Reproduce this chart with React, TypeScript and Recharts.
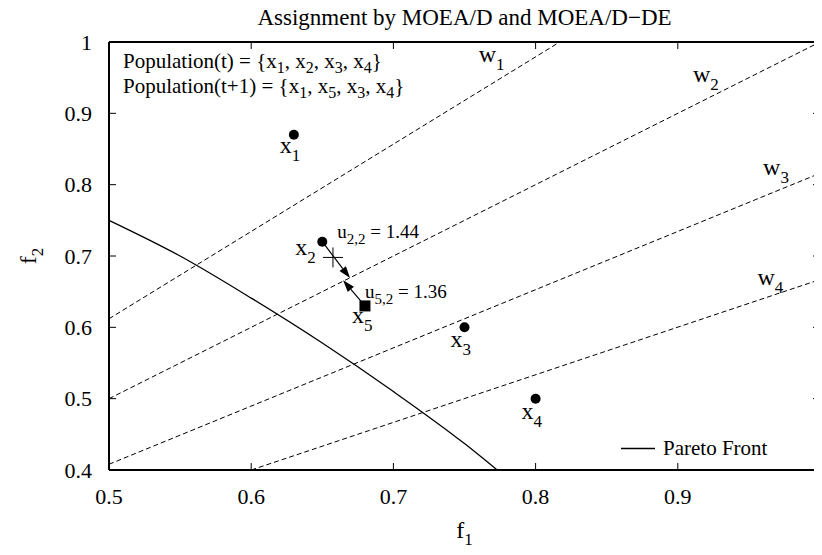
import React from "react";
import {
  ComposedChart,
  XAxis,
  YAxis,
  Line,
  Scatter,
  ReferenceLine,
  ReferenceDot,
  Legend,
} from "recharts";

const FONT =
  "'Liberation Serif', Tinos, 'Times New Roman', 'Nimbus Roman', 'DejaVu Serif', serif";

const xTicks = [0.5, 0.6, 0.7, 0.8, 0.9, 1];
const yTicks = [0.4, 0.5, 0.6, 0.7, 0.8, 0.9, 1];
const xMin = 0.5;
const xMax = 1;
const yMin = 0.4;
const yMax = 1;

// pareto front
const paretoFront = [
  { x: 0.5, y: 0.75 },
  { x: 0.55, y: 0.7 },
  { x: 0.6, y: 0.641 },
  { x: 0.65, y: 0.578 },
  { x: 0.7, y: 0.51 },
  { x: 0.75, y: 0.437 },
  { x: 0.773, y: 0.4 },
];

// weight vectors (end points inside the frame)
const w1 = [
  { x: 0.5, y: 0.612 },
  { x: 0.817, y: 1 },
];
const w2 = [
  { x: 0.5, y: 0.5 },
  { x: 1, y: 1 },
];
const w3 = [
  { x: 0.5, y: 0.408 },
  { x: 1, y: 0.816 },
];
const w4 = [
  { x: 0.6, y: 0.4 },
  { x: 1, y: 0.667 },
];

const population = [
  { id: "1", x: 0.63, y: 0.87 },
  { id: "2", x: 0.65, y: 0.72 },
  { id: "3", x: 0.75, y: 0.6 },
  { id: "4", x: 0.8, y: 0.5 },
];
const offspring = [{ id: "5", x: 0.68, y: 0.63 }];
const crossPoint = [{ x: 0.6575, y: 0.698 }];

const arrows = [
  { from: { x: 0.65, y: 0.72 }, to: { x: 0.6695, y: 0.669 } },
  { from: { x: 0.68, y: 0.63 }, to: { x: 0.6646, y: 0.666 } },
];

const utilities = [
  { id: "2,2", value: "1.44", x: 0.65, y: 0.72 },
  { id: "5,2", value: "1.36", x: 0.68, y: 0.63 },
];

const weightLabels = [
  { id: "1", x: 0.76, y: 0.972 },
  { id: "2", x: 0.9107, y: 0.944 },
  { id: "3", x: 0.96, y: 0.8135 },
  { id: "4", x: 0.956, y: 0.659 },
];

// frame (top and right edges) and tick positions built from the ticks
const frameTopRight = [
  { x: xMin, y: yMax },
  { x: xMax, y: yMax },
  { x: xMax, y: yMin },
];
const topTicks = xTicks.slice(1, -1).map((x) => ({ x, y: yMax }));
const bottomTicks = xTicks.slice(1, -1).map((x) => ({ x, y: yMin }));
const leftTicks = yTicks.slice(1, -1).map((y) => ({ x: xMin, y }));
const rightTicks = yTicks.slice(1, -1).map((y) => ({ x: xMax, y }));

// pixel offsets of the x_i labels from their points
const pointLabelOffset: Record<string, [number, number]> = {
  "1": [-14, 18],
  "2": [-27, 13],
  "3": [-14, 20],
  "4": [-14, 20],
  "5": [-13, 17],
};
const utilityOffset: Record<string, [number, number]> = {
  "2,2": [15, -4],
  "5,2": [0, -8],
};

const TICK = 7;

function SubText({ x, y, main, sub, rest, size, subSize, shift, anchor, transform }: any) {
  return (
    <text
      x={x}
      y={y}
      fontSize={size}
      fontFamily={FONT}
      style={{ fontFamily: FONT }}
      fill="#000"
      textAnchor={anchor || "start"}
      transform={transform}
    >
      {main}
      <tspan fontSize={subSize} dy={shift}>
        {sub}
      </tspan>
      {rest ? (
        <tspan fontSize={size} dy={-shift}>
          {rest}
        </tspan>
      ) : null}
    </text>
  );
}

function PointShape(props: any) {
  const { cx, cy, payload } = props;
  const off = pointLabelOffset[payload.id] || [0, 0];
  return (
    <g>
      <circle cx={cx} cy={cy} r={5} fill="#000" />
      <SubText x={cx + off[0]} y={cy + off[1]} main="x" sub={payload.id} size={24} subSize={17} shift={8} />
    </g>
  );
}

function SquareShape(props: any) {
  const { cx, cy, payload } = props;
  const off = pointLabelOffset[payload.id] || [0, 0];
  return (
    <g>
      <rect x={cx - 5.5} y={cy - 5.5} width={11} height={11} fill="#000" />
      <SubText x={cx + off[0]} y={cy + off[1]} main="x" sub={payload.id} size={24} subSize={17} shift={8} />
    </g>
  );
}

function CrossShape(props: any) {
  const { cx, cy } = props;
  return (
    <g stroke="#000" strokeWidth={1}>
      <line x1={cx - 10} y1={cy} x2={cx + 10} y2={cy} />
      <line x1={cx} y1={cy - 10} x2={cx} y2={cy + 10} />
    </g>
  );
}

// inner tick marks: dx/dy give the direction into the plot
const tickShape = (dx: number, dy: number) => (props: any) => {
  const { cx, cy } = props;
  return <line x1={cx} y1={cy} x2={cx + dx * TICK} y2={cy + dy * TICK} stroke="#000" strokeWidth={1} />;
};

function ArrowShape(props: any) {
  const { x1, y1, x2, y2 } = props;
  const ang = Math.atan2(y2 - y1, x2 - x1);
  const len = 12;
  const half = 4;
  const bx = x2 - len * Math.cos(ang);
  const by = y2 - len * Math.sin(ang);
  const nx = -Math.sin(ang) * half;
  const ny = Math.cos(ang) * half;
  return (
    <g>
      <line x1={x1} y1={y1} x2={bx} y2={by} stroke="#000" strokeWidth={1.2} />
      <polygon points={`${x2},${y2} ${bx + nx},${by + ny} ${bx - nx},${by - ny}`} fill="#000" />
    </g>
  );
}

const renderLegend = () => (
  <div
    style={{
      display: "flex",
      alignItems: "center",
      fontFamily: FONT,
      fontSize: 21,
      lineHeight: "24px",
      color: "#000",
    }}
  >
    <svg width={34} height={3} style={{ marginRight: 8 }}>
      <line x1={0} y1={1.5} x2={34} y2={1.5} stroke="#000" strokeWidth={1.3} />
    </svg>
    <span>Pareto Front</span>
  </div>
);

const subStyle: React.CSSProperties = { fontSize: 16, position: "relative", top: 5 };

function PopText({ t, ids }: { t: string; ids: string[] }) {
  return (
    <span>
      Population({t}) = {"{"}
      {ids.map((id, i) => (
        <React.Fragment key={i}>
          x<span style={subStyle}>{id}</span>
          {i < ids.length - 1 ? ", " : ""}
        </React.Fragment>
      ))}
      {"}"}
    </span>
  );
}

export default function App() {
  const axisLine = { stroke: "#000", strokeWidth: 2 };
  const tickStyle = { fill: "#000", fontSize: 22, fontFamily: FONT };
  return (
    <div
      style={{
        position: "relative",
        width: 822,
        height: 555,
        margin: -8,
        background: "#fff",
        fontFamily: FONT,
      }}
    >
      <ComposedChart
        width={822}
        height={555}
        margin={{ top: 42, right: 2, bottom: 0, left: 0 }}
        style={{ fontFamily: FONT }}
      >
        <XAxis
          type="number"
          dataKey="x"
          domain={[xMin, xMax]}
          ticks={xTicks}
          height={85}
          axisLine={axisLine}
          tickLine={false}
          tickSize={-TICK}
          tickMargin={25}
          tick={tickStyle}
          tickFormatter={(v) => String(v)}
          interval={0}
          label={{
            content: (p: any) => {
              const vb = p.viewBox;
              return (
                <SubText x={vb.x + vb.width / 2} y={538} main="f" sub="1" size={24} subSize={17} shift={7} anchor="middle" />
              );
            },
          }}
        />
        <YAxis
          type="number"
          dataKey="y"
          domain={[yMin, yMax]}
          ticks={yTicks}
          width={109}
          axisLine={axisLine}
          tickLine={false}
          tickSize={-TICK}
          tickMargin={24}
          tick={tickStyle}
          tickFormatter={(v) => String(v)}
          interval={0}
          label={{
            content: (p: any) => {
              const vb = p.viewBox;
              const cy = vb.y + vb.height / 2;
              return (
                <SubText
                  x={36}
                  y={cy}
                  main="f"
                  sub="2"
                  size={24}
                  subSize={17}
                  shift={7}
                  anchor="middle"
                  transform={`rotate(-90 36 ${cy})`}
                />
              );
            },
          }}
        />

        {[w1, w2, w3, w4].map((w, i) => (
          <Line
            key={i}
            data={w}
            dataKey="y"
            type="linear"
            stroke="#000"
            strokeWidth={1}
            strokeDasharray="5 3"
            dot={false}
            activeDot={false}
            legendType="none"
            isAnimationActive={false}
          />
        ))}
        <Line
          data={paretoFront}
          dataKey="y"
          type="monotone"
          stroke="#000"
          strokeWidth={1.3}
          dot={false}
          activeDot={false}
          name="Pareto Front"
          isAnimationActive={false}
        />

        {/* top and right edges of the frame, plus inner ticks on all sides */}
        <Line
          data={frameTopRight}
          dataKey="y"
          type="linear"
          stroke="#000"
          strokeWidth={2}
          dot={false}
          activeDot={false}
          legendType="none"
          isAnimationActive={false}
        />
        <Scatter data={topTicks} shape={tickShape(0, 1)} legendType="none" isAnimationActive={false} />
        <Scatter data={bottomTicks} shape={tickShape(0, -1)} legendType="none" isAnimationActive={false} />
        <Scatter data={leftTicks} shape={tickShape(1, 0)} legendType="none" isAnimationActive={false} />
        <Scatter data={rightTicks} shape={tickShape(-1, 0)} legendType="none" isAnimationActive={false} />

        {arrows.map((a, i) => (
          <ReferenceLine key={i} segment={[a.from, a.to]} shape={ArrowShape} />
        ))}

        <Scatter data={crossPoint} shape={CrossShape} legendType="none" isAnimationActive={false} />
        <Scatter data={population} shape={PointShape} legendType="none" isAnimationActive={false} />
        <Scatter data={offspring} shape={SquareShape} legendType="none" isAnimationActive={false} />

        {utilities.map((u) => (
          <ReferenceDot
            key={u.id}
            x={u.x}
            y={u.y}
            r={0}
            fill="none"
            stroke="none"
            label={{
              content: (p: any) => {
                const vb = p.viewBox;
                const off = utilityOffset[u.id];
                return (
                  <SubText
                    x={vb.x + off[0]}
                    y={vb.y + off[1]}
                    main="u"
                    sub={u.id}
                    rest={` = ${u.value}`}
                    size={19}
                    subSize={15}
                    shift={6}
                  />
                );
              },
            }}
          />
        ))}

        {weightLabels.map((w) => (
          <ReferenceDot
            key={w.id}
            x={w.x}
            y={w.y}
            r={0}
            fill="none"
            stroke="none"
            label={{
              content: (p: any) => {
                const vb = p.viewBox;
                return <SubText x={vb.x} y={vb.y} main="w" sub={w.id} size={24} subSize={17} shift={8} />;
              },
            }}
          />
        ))}

        <Legend
          layout="horizontal"
          verticalAlign="middle"
          align="center"
          content={renderLegend}
          wrapperStyle={{ left: 621, top: 436, width: 200, height: 24 }}
        />
      </ComposedChart>

      <div
        style={{
          position: "absolute",
          left: 109,
          top: 6,
          width: 711,
          textAlign: "center",
          fontFamily: FONT,
          fontSize: 23,
          lineHeight: "23px",
          color: "#000",
        }}
      >
        Assignment by MOEA/D and MOEA/D−DE
      </div>
      <div
        style={{
          position: "absolute",
          left: 123,
          top: 51,
          fontFamily: FONT,
          fontSize: 21,
          lineHeight: "21px",
          color: "#000",
          whiteSpace: "nowrap",
        }}
      >
        <PopText t="t" ids={["1", "2", "3", "4"]} />
      </div>
      <div
        style={{
          position: "absolute",
          left: 123,
          top: 76,
          fontFamily: FONT,
          fontSize: 21,
          lineHeight: "21px",
          color: "#000",
          whiteSpace: "nowrap",
        }}
      >
        <PopText t="t+1" ids={["1", "5", "3", "4"]} />
      </div>
    </div>
  );
}
